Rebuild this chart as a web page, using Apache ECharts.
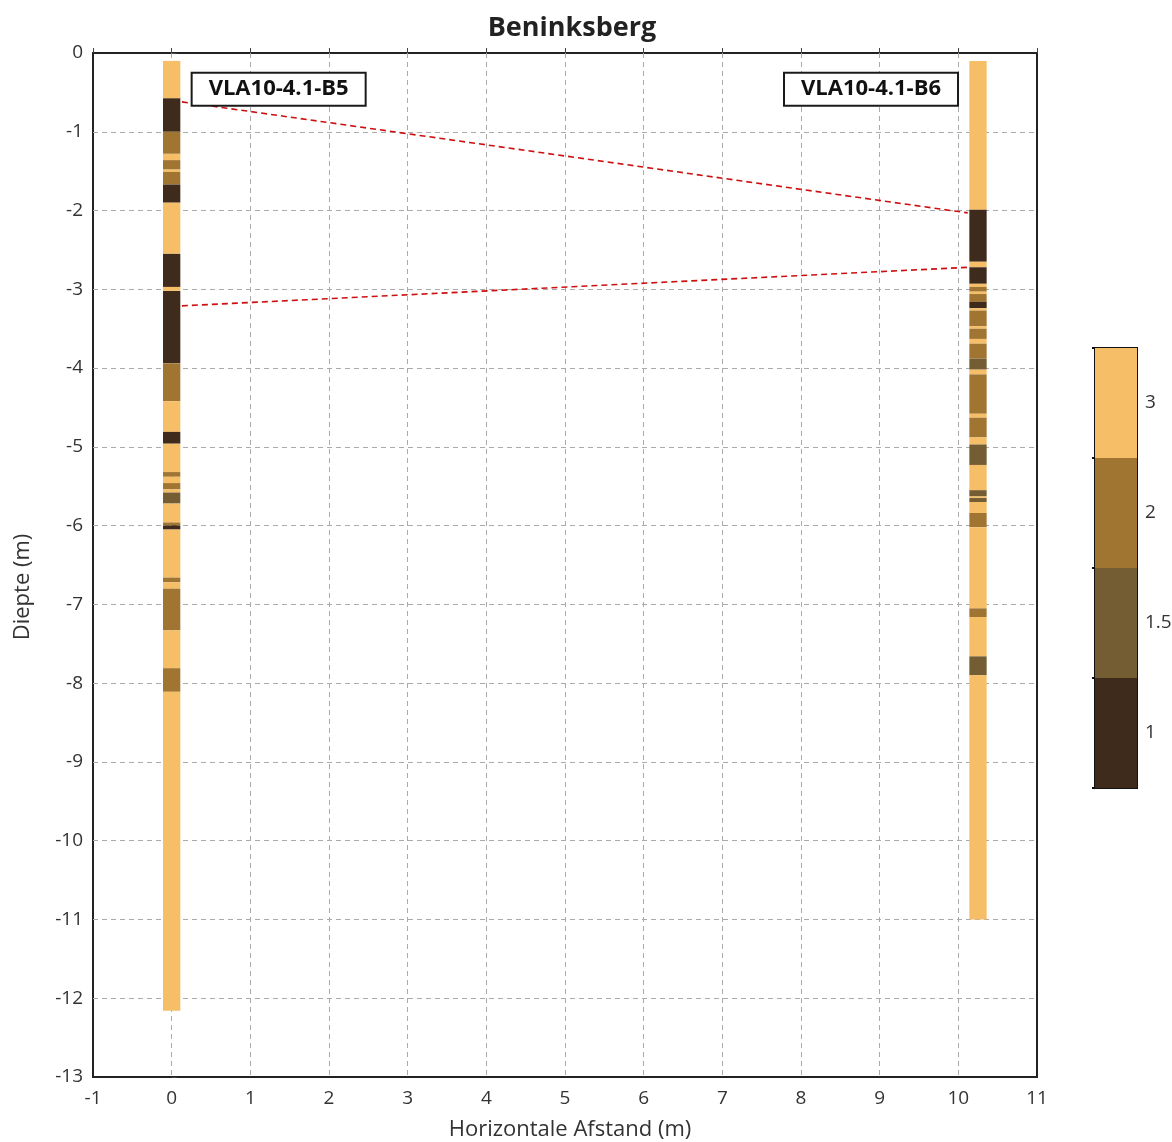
<!DOCTYPE html>
<html>
<head>
<meta charset="utf-8">
<title>Beninksberg</title>
<script src="https://cdn.jsdelivr.net/npm/echarts@6/dist/echarts.min.js"></script>
<style>
  html, body { margin: 0; padding: 0; background: #fff; }
  #chart { width: 1172px; height: 1142px; }
</style>
</head>
<body>
<div id="chart"></div>
<script>
// Borehole VLA10-4.1-B5: layer boundaries (depth below surface, m) and class per layer
const b5X = 0;
const b5Bounds = [0.10, 0.575, 1.00, 1.28, 1.36, 1.48, 1.51, 1.67, 1.90, 2.55, 2.97, 3.02, 3.94, 4.42, 4.81, 4.96,
  5.32, 5.38, 5.46, 5.54, 5.58, 5.72, 5.96, 6.00, 6.05, 6.66, 6.72, 6.80, 7.33, 7.81, 8.11, 12.16];
const b5Classes = [3, 1, 2, 3, 2, 3, 2, 1, 3, 1, 3, 1, 2, 3, 1, 3,
  2, 3, 2, 3, 1.5, 3, 2, 1, 3, 2, 3, 2, 3, 2, 3];

// Borehole VLA10-4.1-B6
const b6X = 10.25;
const b6Bounds = [0.10, 1.99, 2.65, 2.72, 2.93, 2.97, 3.03, 3.06, 3.16, 3.24, 3.27, 3.47, 3.50, 3.63, 3.69, 3.88,
  4.02, 4.08, 4.58, 4.63, 4.88, 4.97, 5.23, 5.55, 5.63, 5.65, 5.70, 5.84, 6.02, 7.05, 7.16, 7.66, 7.90, 11.0];
const b6Classes = [3, 1, 3, 1, 3, 2, 3, 2, 1, 3, 2, 3, 2, 3, 2, 1.5,
  3, 2, 3, 2, 3, 1.5, 3, 1.5, 3, 1.5, 3, 2, 3, 2, 3, 1.5, 3];

// Correlation lines between the two boreholes: [x, depth]
const corrUpper = [[0.13, -0.62], [10.12, -2.03]];
const corrLower = [[0.13, -3.21], [10.14, -2.72]];

// Borehole name tags: [x, y, name]
const tags = [[1.36, -0.46, 'VLA10-4.1-B5'], [8.89, -0.46, 'VLA10-4.1-B6']];

// Class scale shown in the colour bar (bottom to top)
const classLabels = ['1', '1.5', '2', '3'];
const classColors = { '1': '#3E2B1C', '1.5': '#745D33', '2': '#A07532', '3': '#F6BE66' };

const xTicks = { min: -1, max: 11, step: 1 };
const yTicks = { min: -13, max: 0, step: 1 };

function layers(x, bounds, classes) {
  const out = [];
  for (let i = 0; i < classes.length; i++) {
    out.push([x, -bounds[i], -bounds[i + 1], classes[i]]);
  }
  return out;
}

const COLUMN_WIDTH = 0.22;
const FONT = '"Open Sans", "Noto Sans", sans-serif';

function renderLayer(params, api) {
  const x = api.value(0);
  const yTop = api.value(1);
  const yBot = api.value(2);
  const cls = String(api.value(3));
  const p1 = api.coord([x - COLUMN_WIDTH / 2, yTop]);
  const p2 = api.coord([x + COLUMN_WIDTH / 2, yBot]);
  return {
    type: 'rect',
    shape: { x: p1[0], y: p1[1], width: p2[0] - p1[0], height: p2[1] - p1[1] },
    style: { fill: classColors[cls], stroke: null }
  };
}

const chart = echarts.init(document.getElementById('chart'), null, { renderer: 'canvas' });

const gridLine = { show: true, showMinLine: false, showMaxLine: false, lineStyle: { color: '#aaa', type: [5, 4], width: 1 } };
const tickLabel = { fontFamily: FONT, fontSize: 19, color: '#333' };

chart.setOption({
  animation: false,
  backgroundColor: '#fff',
  title: {
    text: 'Beninksberg',
    left: 567,
    top: 10,
    textAlign: 'center',
    textStyle: { fontFamily: FONT, fontSize: 27, fontWeight: 'bold', color: '#222' }
  },
  grid: [
    { left: 93, right: 135, top: 53, bottom: 65, outerBoundsMode: 'none', containLabel: false,
      show: true, borderColor: '#222', borderWidth: 2, backgroundColor: 'transparent' },
    { left: 1095, width: 42, top: 348, height: 440, outerBoundsMode: 'none', containLabel: false,
      show: true, borderColor: '#111', borderWidth: 2, backgroundColor: 'transparent' }
  ],
  xAxis: [
    {
      gridIndex: 0, type: 'value', min: xTicks.min, max: xTicks.max, interval: xTicks.step,
      name: 'Horizontale Afstand (m)', nameLocation: 'middle', nameGap: 42,
      nameTextStyle: { fontFamily: FONT, fontSize: 22, color: '#333', padding: [0, 0, 0, 10] },
      axisLine: { show: false },
      axisTick: { show: true, inside: true, length: 5, lineStyle: { color: '#444' } },
      axisLabel: Object.assign({ margin: 12 }, tickLabel),
      splitLine: gridLine
    },
    { gridIndex: 1, type: 'value', min: 0, max: 1, show: false }
  ],
  yAxis: [
    {
      gridIndex: 0, type: 'value', min: yTicks.min, max: yTicks.max, interval: yTicks.step,
      name: 'Diepte (m)', nameLocation: 'middle', nameGap: 59, nameRotate: 90,
      nameTextStyle: { fontFamily: FONT, fontSize: 22, color: '#333', padding: [0, 44, 0, 0] },
      axisLine: { show: false },
      axisTick: { show: true, inside: true, length: 5, lineStyle: { color: '#444' } },
      axisLabel: Object.assign({ margin: 10 }, tickLabel),
      splitLine: gridLine
    },
    {
      gridIndex: 1, type: 'category', data: classLabels, position: 'right',
      axisLine: { show: false },
      axisTick: { show: true, inside: true, length: 3, lineStyle: { color: '#111', width: 2 } },
      axisLabel: Object.assign({ margin: 8 }, tickLabel),
      splitLine: { show: false }
    }
  ],
  series: [
    {
      name: 'VLA10-4.1-B5', type: 'custom', xAxisIndex: 0, yAxisIndex: 0,
      renderItem: renderLayer, data: layers(b5X, b5Bounds, b5Classes), z: 3
    },
    {
      name: 'VLA10-4.1-B6', type: 'custom', xAxisIndex: 0, yAxisIndex: 0,
      renderItem: renderLayer, data: layers(b6X, b6Bounds, b6Classes), z: 3
    },
    {
      type: 'line', xAxisIndex: 0, yAxisIndex: 0, data: corrUpper, symbol: 'none', z: 4,
      lineStyle: { color: '#CC1010', width: 1.6, type: [6, 4] }
    },
    {
      type: 'line', xAxisIndex: 0, yAxisIndex: 0, data: corrLower, symbol: 'none', z: 4,
      lineStyle: { color: '#CC1010', width: 1.6, type: [6, 4] }
    },
    {
      type: 'scatter', xAxisIndex: 0, yAxisIndex: 0, symbolSize: 0, z: 5,
      itemStyle: { opacity: 1 },
      data: tags.map(t => ({ value: [t[0], t[1]], name: t[2] })),
      label: {
        show: true, position: 'inside', formatter: p => p.name, opacity: 1,
        fontFamily: FONT, fontSize: 22, fontWeight: 'bold', color: '#111',
        backgroundColor: '#fff', borderColor: '#1a1a1a', borderWidth: 2,
        padding: [5, 16, 4, 16]
      }
    },
    {
      type: 'bar', xAxisIndex: 1, yAxisIndex: 1, barWidth: '100%', barCategoryGap: 0,
      data: classLabels.map(c => ({ value: 1, itemStyle: { color: classColors[c] } })),
      silent: true
    }
  ]
});
</script>
</body>
</html>
